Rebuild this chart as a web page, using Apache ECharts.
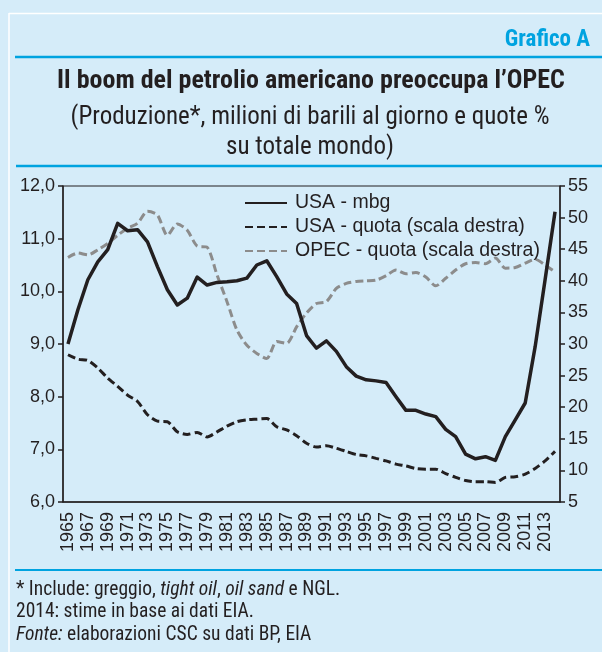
<!DOCTYPE html>
<html>
<head>
<meta charset="utf-8">
<script src="https://cdn.jsdelivr.net/npm/echarts/dist/echarts.min.js"></script>
<style>
  html, body { margin: 0; padding: 0; background: #d5ecf9; }
  #chart { width: 602px; height: 652px; }
</style>
</head>
<body>
<div id="chart"></div>
<script>
// anni
const years = ['1965','1966','1967','1968','1969','1970','1971','1972','1973','1974',
  '1975','1976','1977','1978','1979','1980','1981','1982','1983','1984',
  '1985','1986','1987','1988','1989','1990','1991','1992','1993','1994',
  '1995','1996','1997','1998','1999','2000','2001','2002','2003','2004',
  '2005','2006','2007','2008','2009','2010','2011','2012','2013','2014']

// USA - milioni di barili al giorno (scala sinistra)
const usaMbg = [9.00, 9.65, 10.22, 10.56, 10.79, 11.29, 11.15, 11.17, 10.94, 10.47,
  10.03, 9.74, 9.87, 10.27, 10.12, 10.17, 10.18, 10.20, 10.25, 10.50,
  10.58, 10.28, 9.95, 9.77, 9.16, 8.92, 9.06, 8.86, 8.57, 8.39,
  8.32, 8.30, 8.27, 8.00, 7.74, 7.74, 7.67, 7.62, 7.38, 7.24,
  6.91, 6.82, 6.86, 6.79, 7.24, 7.56, 7.88, 8.95, 10.22, 11.51]

// quote % su totale mondo (scala destra)
const usaQuota = [28.3, 27.6, 27.4, 26.2, 24.6, 23.3, 21.9, 20.9, 18.8, 17.8,
  17.7, 16.1, 15.7, 16.0, 15.3, 16.1, 17.0, 17.7, 18.0, 18.1,
  18.2, 16.9, 16.4, 15.5, 14.3, 13.7, 13.9, 13.5, 13.0, 12.5,
  12.3, 11.9, 11.5, 11.0, 10.7, 10.3, 10.2, 10.2, 9.5, 8.9,
  8.4, 8.2, 8.2, 8.1, 8.9, 9.0, 9.4, 10.3, 11.5, 13.0]

const opecQuota = [43.7, 44.4, 44.1, 44.9, 45.9, 47.2, 48.3, 49.1, 51.0, 50.4,
  47.2, 49.0, 48.0, 45.5, 45.3, 40.9, 36.7, 32.2, 29.8, 28.5,
  27.7, 30.4, 30.1, 32.7, 34.9, 36.4, 36.7, 38.8, 39.6, 39.9,
  40.0, 40.1, 40.8, 41.7, 41.1, 41.3, 40.6, 39.2, 40.4, 41.7,
  42.7, 42.9, 42.7, 43.6, 42.0, 42.1, 42.8, 43.4, 42.5, 41.4]

const seriesNames = ['USA - mbg', 'USA - quota (scala destra)', 'OPEC - quota (scala destra)']

const INK = '#231f20'
const CYAN = '#00a3e0'
const GREY = '#8c8c8c'
const SANS = '"Liberation Sans", Arial, Helvetica, sans-serif'
const COND = '"Roboto Condensed", "Liberation Sans Narrow", sans-serif'

var myChart = echarts.init(document.getElementById('chart'))

const option = {
  backgroundColor: '#d5ecf9',
  animation: false,
  title: [
    {
      text: 'Grafico A', right: 7, top: 24,
      textStyle: { color: CYAN, fontFamily: COND, fontWeight: 'bold', fontSize: 23 }
    },
    {
      text: 'Il boom del petrolio americano preoccupa l\u2019OPEC', left: 306, textAlign: 'center', top: 63,
      textStyle: { color: INK, fontFamily: COND, fontWeight: 'bold', fontSize: 26 }
    },
    {
      text: '(Produzione*, milioni di barili al giorno e quote %\nsu totale mondo)', left: 305, textAlign: 'center', top: 98,
      textStyle: { color: INK, fontFamily: COND, fontWeight: 'normal', fontSize: 25, lineHeight: 30 }
    }
  ],
  graphic: [
    // cornice bianca
    { type: 'line', shape: { x1: 9, y1: 13.5, x2: 602, y2: 13.5 }, style: { stroke: '#fff', lineWidth: 1.5 } },
    { type: 'line', shape: { x1: 9, y1: 13, x2: 9, y2: 652 }, style: { stroke: '#fff', lineWidth: 1.5 } },
    // linee ciano
    { type: 'line', shape: { x1: 15, y1: 57, x2: 602, y2: 57 }, style: { stroke: CYAN, lineWidth: 2.5 } },
    { type: 'line', shape: { x1: 16, y1: 166, x2: 602, y2: 166 }, style: { stroke: CYAN, lineWidth: 2.5 } },
    { type: 'line', shape: { x1: 15, y1: 570, x2: 602, y2: 570 }, style: { stroke: CYAN, lineWidth: 2 } },
    {
      type: 'text', left: 16, top: 580,
      style: {
        text: '{r|* Include: greggio, }{i|tight oil}{r|, }{i|oil sand}{r| e NGL.}\n{r|2014: stime in base ai dati EIA.}\n{i|Fonte:}{r| elaborazioni CSC su dati BP, EIA}',
        fill: INK,
        rich: {
          r: { fontFamily: COND, fontSize: 19.5, lineHeight: 22.5, fill: INK },
          i: { fontFamily: COND, fontSize: 19.5, lineHeight: 22.5, fontStyle: 'italic', fill: INK }
        }
      }
    }
  ],
  legend: {
    orient: 'vertical',
    left: 244, top: 193,
    padding: 0,
    itemWidth: 42, itemHeight: 14, itemGap: 4,
    data: seriesNames,
    itemStyle: { opacity: 0 },
    textStyle: { color: INK, fontFamily: SANS, fontSize: 19.5, lineHeight: 19, padding: [0, 0, 0, 3] }
  },
  grid: {
    left: 63, right: 42, top: 186, bottom: 150,
    show: true, borderColor: INK, borderWidth: 1, backgroundColor: 'transparent'
  },
  xAxis: {
    type: 'category',
    data: years,
    boundaryGap: true,
    axisLine: { lineStyle: { color: INK, width: 1.5 } },
    axisTick: { interval: 0, length: 5, lineStyle: { color: INK, width: 1.5 } },
    axisLabel: { interval: 1, rotate: 90, color: INK, fontFamily: SANS, fontSize: 18, margin: 10 }
  },
  yAxis: [
    {
      type: 'value', min: 6, max: 12, interval: 1,
      axisLine: { show: true, lineStyle: { color: INK, width: 1.5 } },
      axisTick: { show: true, length: 5, lineStyle: { color: INK, width: 1.5 } },
      splitLine: { show: false },
      axisLabel: {
        color: INK, fontFamily: SANS, fontSize: 18, margin: 8,
        formatter: v => v.toFixed(1).replace('.', ',')
      }
    },
    {
      type: 'value', min: 5, max: 55, interval: 5, position: 'right',
      axisLine: { show: true, lineStyle: { color: INK, width: 1.5 } },
      axisTick: { show: true, length: 5, lineStyle: { color: INK, width: 1.5 } },
      splitLine: { show: false },
      axisLabel: { color: INK, fontFamily: SANS, fontSize: 18, margin: 8 }
    }
  ],
  series: [
    {
      name: seriesNames[0], type: 'line', yAxisIndex: 0, data: usaMbg,
      symbol: 'none', z: 4,
      lineStyle: { color: INK, width: 3.5, join: 'round' },
      itemStyle: { color: INK }
    },
    {
      name: seriesNames[1], type: 'line', yAxisIndex: 1, data: usaQuota,
      symbol: 'none', smooth: 0.25, z: 3,
      lineStyle: { color: INK, width: 3, type: [8, 4] },
      itemStyle: { color: INK }
    },
    {
      name: seriesNames[2], type: 'line', yAxisIndex: 1, data: opecQuota,
      symbol: 'none', smooth: 0.25, z: 2,
      lineStyle: { color: GREY, width: 3, type: [8, 4] },
      itemStyle: { color: GREY }
    }
  ]
}
myChart.setOption(option)
</script>
</body>
</html>
